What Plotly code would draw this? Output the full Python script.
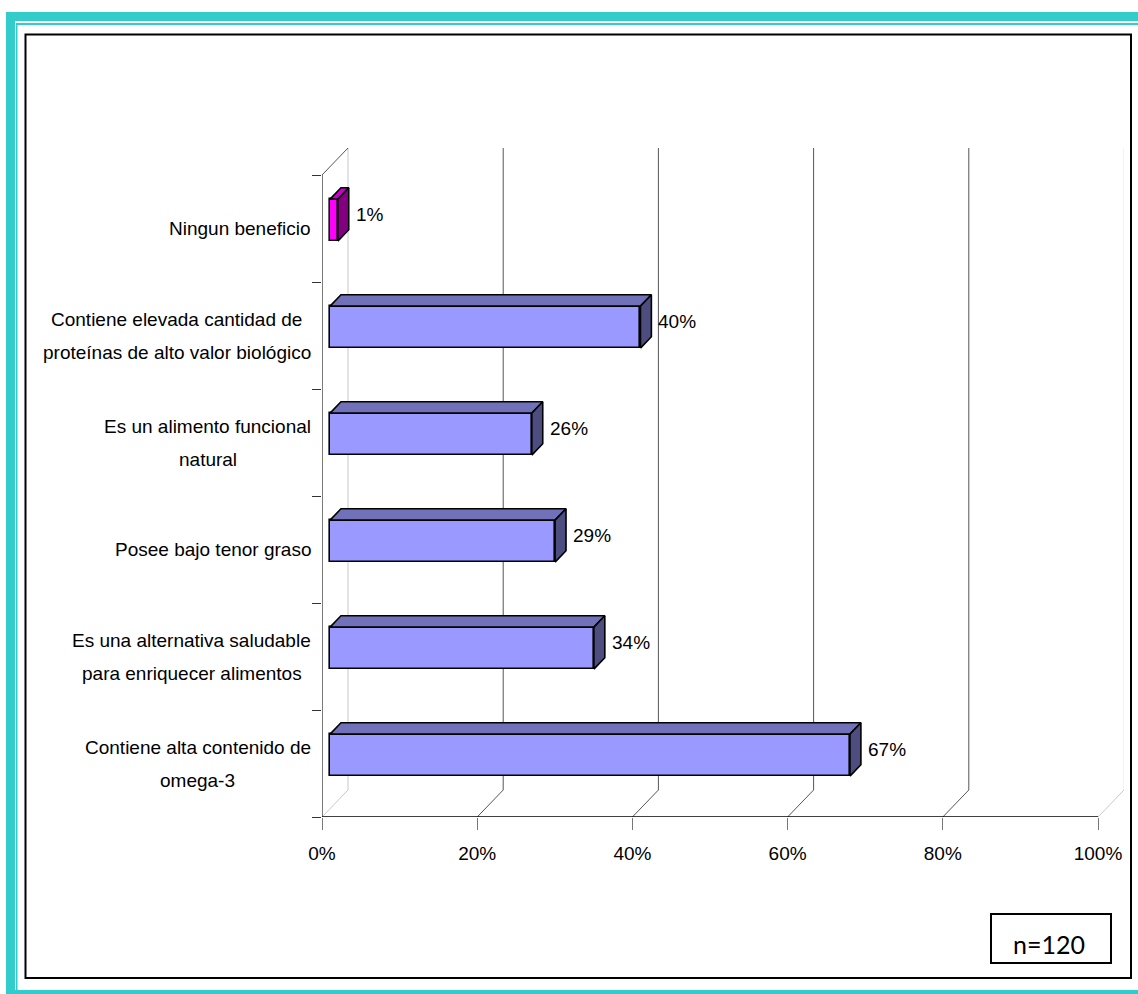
import plotly.graph_objects as go

# ---------------- data ----------------
categories = [
    "Contiene alta contenido de<br>omega-3",
    "Es una alternativa saludable<br>para enriquecer alimentos",
    "Posee bajo tenor graso",
    "Es un alimento funcional<br>natural",
    "Contiene elevada cantidad de<br>proteínas de alto valor biológico",
    "Ningun beneficio",
]
values = [67, 34, 29, 26, 40, 1]
value_labels = ["67%", "34%", "29%", "26%", "40%", "1%"]
x_ticks = [0, 20, 40, 60, 80, 100]
x_tick_text = ["0%", "20%", "40%", "60%", "80%", "100%"]
note_text = "n=120"

# ---------------- styling / geometry ----------------
W, H = 1138, 994
PX_X0, PX_X100 = 322, 1098          # front plane 0% / 100%
PX_Y0, PX_Y6 = 817, 175             # front plane bottom / top
SX = (PX_X100 - PX_X0) / 100.0      # px per %
SY = (PX_Y0 - PX_Y6) / 6.0          # px per category
DEPTH_PX = (26, 27)                 # back-wall offset (right, up)
DX = DEPTH_PX[0] / SX
DY = DEPTH_PX[1] / SY
F1, F2 = 0.31, 0.73                 # bar front/back depth fractions
HALF_H = 0.196                      # half bar thickness (category units)

x_range = [0, 100 + DX]
y_range = [0, 6 + DY]
ml = PX_X0
mt = PX_Y6 - DEPTH_PX[1]
mb = H - PX_Y0
mr = W - ml - int(round((x_range[1] - x_range[0]) * SX))
pw = W - ml - mr
ph = H - mt - mb

FONT = "Liberation Sans, Arial, sans-serif"
FS = 19
LABEL_GAP = 11                      # px between label block and axis
LINE_STEP = 33                      # px between label lines
TEAL = "#33CCCC"
GRID = "#555555"
LIGHT = "#C8C8C8"

# approximate Arial advance widths (1/1000 em) used to centre wrapped lines
_AW = {c: 556 for c in "abdeghnopqu0123456789ó"}
_AW.update({"c": 500, "f": 278, "i": 222, "j": 222, "k": 500, "l": 222, "m": 833,
            "r": 333, "s": 500, "t": 278, "v": 500, "w": 722, "x": 500, "y": 500,
            "z": 500, " ": 278, "-": 333, "í": 278, "C": 722, "E": 667, "N": 722,
            "P": 667})


def text_w(s, size):
    return sum(_AW.get(ch, 556) for ch in s) * size / 1000.0


def px(xp):
    return (xp - ml) / pw


def py(yp):
    return (H - mb - yp) / ph


fig = go.Figure()

front_cols = ["#FF00FF" if v < 5 else "#9999FF" for v in values]
top_cols = ["#CC00CC" if v < 5 else "#7171BA" for v in values]
side_cols = ["#800080" if v < 5 else "#4D4D80" for v in values]

yc = [i + 0.5 for i in range(len(categories))]

# front faces
fig.add_trace(go.Bar(
    x=values, y=[c + F1 * DY for c in yc], base=F1 * DX, orientation="h",
    width=2 * HALF_H, marker=dict(color=front_cols, line=dict(color="black", width=1.6)),
    hoverinfo="skip", showlegend=False,
))

dd_x = (F2 - F1) * DX
dd_y = (F2 - F1) * DY
for i, v in enumerate(values):
    x0 = F1 * DX
    x1 = v + F1 * DX
    yb = yc[i] + F1 * DY - HALF_H
    yt = yc[i] + F1 * DY + HALF_H
    # top face
    fig.add_trace(go.Scatter(
        x=[x0, x1, x1 + dd_x, x0 + dd_x, x0],
        y=[yt, yt, yt + dd_y, yt + dd_y, yt],
        fill="toself", fillcolor=top_cols[i], mode="lines",
        line=dict(color="black", width=1.6), hoverinfo="skip", showlegend=False,
    ))
    # side face
    fig.add_trace(go.Scatter(
        x=[x1, x1, x1 + dd_x, x1 + dd_x, x1],
        y=[yb, yt, yt + dd_y, yb + dd_y, yb],
        fill="toself", fillcolor=side_cols[i], mode="lines",
        line=dict(color="black", width=1.6), hoverinfo="skip", showlegend=False,
    ))

shapes = []
# back wall gridlines and floor diagonals
for t in x_ticks:
    col = LIGHT if t in (0, 100) else GRID
    if t == 100:
        col = "#E4E4E4"
    shapes.append(dict(type="line", xref="x", yref="y", x0=t + DX, x1=t + DX,
                       y0=DY, y1=6 + DY, line=dict(color=col, width=1), layer="below"))
    shapes.append(dict(type="line", xref="x", yref="y", x0=t, x1=t + DX,
                       y0=0, y1=DY, line=dict(color=LIGHT if t in (0, 100) else GRID, width=1),
                       layer="below"))
# left wall top diagonal
shapes.append(dict(type="line", xref="x", yref="y", x0=0, x1=DX, y0=6, y1=6 + DY,
                   line=dict(color=GRID, width=1), layer="below"))
# front axes lines
shapes.append(dict(type="line", xref="x", yref="y", x0=0, x1=0, y0=0, y1=6,
                   line=dict(color="#333333", width=1.3)))
shapes.append(dict(type="line", xref="x", yref="y", x0=0, x1=100, y0=0, y1=0,
                   line=dict(color="black", width=1.3)))


# outer decorative frame (pixel based, filled bands)
def band(x0, y0, x1, y1, color):
    return dict(type="rect", xref="paper", yref="paper",
                x0=px(x0), x1=px(x1), y0=py(y0), y1=py(y1),
                fillcolor=color, line=dict(width=0))


shapes += [
    band(6, 12, W, 21, TEAL),        # top thick
    band(6, 12, 15, H, TEAL),        # left thick
    band(6, 990, W, H, TEAL),        # bottom thick
    band(16, 23, W, 25, TEAL),       # top thin
    band(16, 23, 17.5, H, TEAL),     # left thin
]
shapes.append(dict(type="rect", xref="paper", yref="paper",
                   x0=px(25.5), x1=px(1131), y0=py(34.5), y1=py(978),
                   line=dict(color="black", width=2)))
shapes.append(dict(type="rect", xref="paper", yref="paper",
                   x0=px(991), x1=px(1111), y0=py(914), y1=py(963),
                   line=dict(color="black", width=2), fillcolor="white"))

annotations = []
for i, c in enumerate(categories):
    lines = c.split("<br>")
    block_w = max(text_w(s, FS) for s in lines)
    centre_shift = -LABEL_GAP - block_w / 2.0
    n = len(lines)
    for k, s in enumerate(lines):
        annotations.append(dict(
            x=0, y=yc[i], xref="x", yref="y", text=s, showarrow=False,
            xanchor="center", yanchor="middle", xshift=centre_shift,
            yshift=((n - 1) / 2.0 - k) * LINE_STEP,
            font=dict(family=FONT, size=FS, color="black"),
        ))
for i, v in enumerate(values):
    annotations.append(dict(
        x=v + F2 * DX, y=yc[i] + (F1 + F2) / 2 * DY, xref="x", yref="y",
        text=value_labels[i], showarrow=False, xanchor="left", yanchor="middle",
        xshift=5, font=dict(family=FONT, size=FS, color="black"),
    ))
annotations.append(dict(
    x=px(1049), y=py(944), xref="paper", yref="paper", text=note_text,
    showarrow=False, xanchor="center", yanchor="middle",
    font=dict(family="Lato, Open Sans, sans-serif", size=25, color="black"),
))

fig.update_layout(
    width=W, height=H,
    margin=dict(l=ml, r=mr, t=mt, b=mb, autoexpand=False),
    paper_bgcolor="white", plot_bgcolor="rgba(0,0,0,0)",
    shapes=shapes, annotations=annotations, showlegend=False,
    bargap=0,
)
fig.update_xaxes(
    range=x_range, tickvals=x_ticks, ticktext=x_tick_text, showgrid=False,
    zeroline=False, showline=False, ticks="outside", ticklen=12, tickcolor="#777777",
    tickwidth=1, ticklabelstandoff=7, automargin=False,
    tickfont=dict(family=FONT, size=FS, color="black"),
)
fig.update_yaxes(
    range=y_range, tickvals=list(range(7)), showticklabels=False, showgrid=False,
    zeroline=False, showline=False, ticks="outside", ticklen=9, tickcolor="#333333",
    tickwidth=1.3, automargin=False,
)

fig.write_html("out.html")
